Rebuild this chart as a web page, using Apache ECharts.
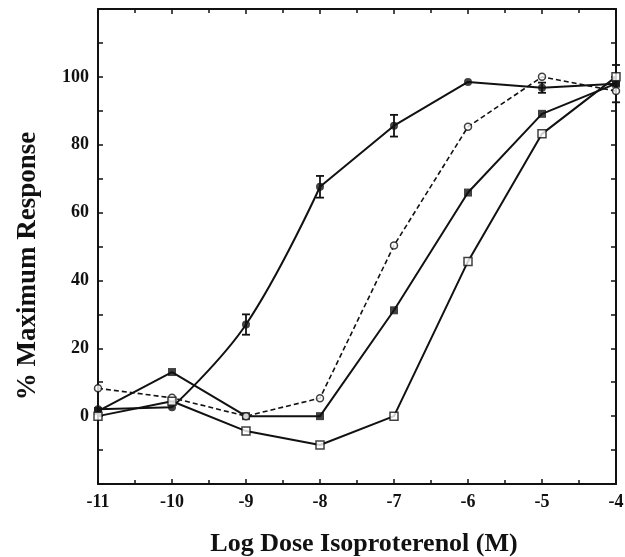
<!DOCTYPE html>
<html>
<head>
<meta charset="utf-8">
<script src="https://cdn.jsdelivr.net/npm/echarts@6/dist/echarts.min.js"></script>
<style>
html, body { margin: 0; padding: 0; background: #fff; }
#main { width: 625px; height: 557px; }
</style>
</head>
<body>
<div id="main"></div>
<script>
// x positions (log M)
const logDose = [-11, -10, -9, -8, -7, -6, -5, -4];
// % maximum response
const filledCircle = [2, 2.6, 27, 67.6, 85.6, 98.5, 96.8, 98];
const filledCircleErr = [0, 0, 3, 3.2, 3.2, 0, 1.5, 5.5];
const filledSquare = [1.5, 13, 0, 0, 31.2, 65.9, 89.1, 98];
const openCircle = [8.2, 5.4, 0, 5.3, 50.3, 85.3, 100, 95.8];
const openSquare = [0, 4.4, -4.4, -8.5, 0, 45.6, 83.2, 100];
const yLabels = [0, 20, 40, 60, 80, 100];
const xTitle = 'Log Dose Isoproterenol (M)';
const yTitle = '% Maximum Response';

const INK = '#111';
const FONT = '"Liberation Serif", "DejaVu Serif", serif';

function pts(ys, from, to) {
    return logDose.slice(from, to + 1).map((x, i) => [x, ys[from + i]]);
}

function seg(ys, from, to, opts) {
    opts = opts || {};
    return {
        type: 'line',
        data: pts(ys, from, to),
        symbol: 'none',
        smooth: opts.smooth || false,
        lineStyle: { color: INK, width: opts.width || 2, type: opts.dashed ? [5, 3] : 'solid' },
        z: 2,
        silent: true
    };
}

function marks(ys, symbol, size, filled) {
    return {
        type: 'scatter',
        data: pts(ys, 0, ys.length - 1),
        symbol: symbol,
        symbolSize: size,
        itemStyle: filled ? { color: INK } : { color: '#fff', borderColor: INK, borderWidth: 1.5 },
        z: 4,
        silent: true
    };
}

let myChart = echarts.init(document.getElementById('main'));

let tickStyle = { show: true, inside: true, length: 5, lineStyle: { color: INK, width: 1.5 } };
let minorStyle = { show: true, splitNumber: 2, length: 4, lineStyle: { color: INK, width: 1.5 } };
let lineStyle = { show: true, onZero: false, lineStyle: { color: INK, width: 2 } };

let option = {
    animation: false,
    backgroundColor: '#fff',
    grid: { left: 98, right: 9, top: 9, bottom: 73, outerBoundsMode: 'none' },
    graphic: [
        {
            type: 'text', x: 364, y: 544,
            style: { text: xTitle, fill: INK, font: 'bold 26px ' + FONT, align: 'center', verticalAlign: 'middle' }
        },
        {
            type: 'text', x: 28, y: 266, rotation: Math.PI / 2,
            style: { text: yTitle, fill: INK, font: 'bold 27px ' + FONT, align: 'center', verticalAlign: 'middle' }
        }
    ],
    xAxis: [
        {
            type: 'value', min: -11, max: -4, interval: 1,
            axisLine: lineStyle, axisTick: tickStyle, minorTick: minorStyle,
            splitLine: { show: false },
            axisLabel: { color: INK, fontFamily: FONT, fontWeight: 'bold', fontSize: 18, margin: 9 }
        },
        {
            type: 'value', position: 'top', min: -11, max: -4, interval: 1,
            axisLine: lineStyle, axisTick: tickStyle, minorTick: minorStyle,
            splitLine: { show: false }, axisLabel: { show: false }
        }
    ],
    yAxis: [
        {
            type: 'value', min: -20, max: 120, interval: 10,
            axisLine: lineStyle, axisTick: tickStyle,
            splitLine: { show: false },
            axisLabel: {
                color: INK, fontFamily: FONT, fontWeight: 'bold', fontSize: 18, margin: 9,
                formatter: v => yLabels.indexOf(v) > -1 ? String(v) : ''
            }
        },
        {
            type: 'value', position: 'right', min: -20, max: 120, interval: 10,
            axisLine: lineStyle, axisTick: tickStyle,
            splitLine: { show: false }, axisLabel: { show: false }
        }
    ],
    series: [
        // filled circle: straight, fitted bend, straight
        seg(filledCircle, 0, 1),
        seg(filledCircle, 1, 3, { smooth: 0.4 }),
        seg(filledCircle, 3, 7),
        // filled square
        seg(filledSquare, 0, 7),
        // open circle, dashed
        seg(openCircle, 0, 7, { dashed: true, width: 1.6 }),
        // open square
        seg(openSquare, 0, 7),
        {
            type: 'custom',
            silent: true,
            z: 3,
            data: logDose.map((x, i) => [x, filledCircle[i], filledCircleErr[i]]).filter(d => d[2] > 0),
            renderItem: function (params, api) {
                let x = api.value(0), y = api.value(1), e = api.value(2);
                let top = api.coord([x, y + e]);
                let bot = api.coord([x, y - e]);
                let w = 4;
                let st = { stroke: INK, lineWidth: 1.8 };
                return {
                    type: 'group',
                    children: [
                        { type: 'line', shape: { x1: top[0], y1: top[1], x2: bot[0], y2: bot[1] }, style: st },
                        { type: 'line', shape: { x1: top[0] - w, y1: top[1], x2: top[0] + w, y2: top[1] }, style: st },
                        { type: 'line', shape: { x1: bot[0] - w, y1: bot[1], x2: bot[0] + w, y2: bot[1] }, style: st }
                    ]
                };
            }
        },
        marks(filledSquare, 'rect', 8, true),
        marks(filledCircle, 'circle', 8, true),
        marks(openCircle, 'circle', 7, false),
        marks(openSquare, 'rect', 8, false)
    ]
};
myChart.setOption(option);
</script>
</body>
</html>
